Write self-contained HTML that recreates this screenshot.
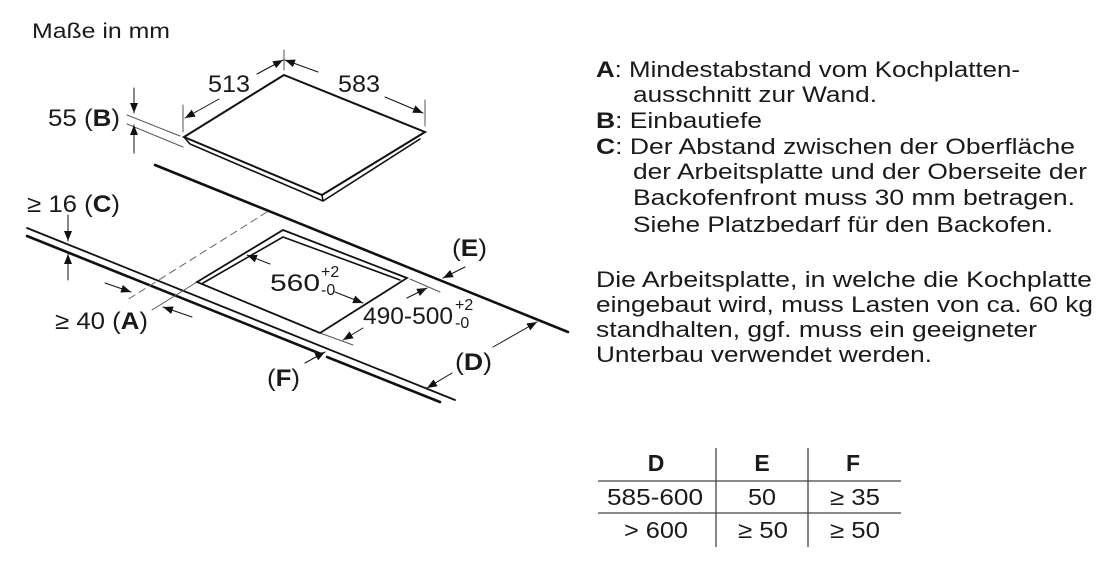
<!DOCTYPE html>
<html><head><meta charset="utf-8"><style>
html,body{margin:0;padding:0;background:#fff;}
svg{display:block;}
text{font-family:"Liberation Sans",Arial,sans-serif;fill:#1a1a1a;}
</style></head><body>
<svg width="1111" height="570" viewBox="0 0 1111 570" xmlns="http://www.w3.org/2000/svg">
<defs>
<marker id="ar" viewBox="0 0 10 10" refX="10" refY="5" markerWidth="10" markerHeight="10" markerUnits="userSpaceOnUse" orient="auto"><path d="M0,1 L10,5 L0,9 z" fill="#111"/></marker>
</defs>
<text x="32" y="38" font-size="21" textLength="138" lengthAdjust="spacingAndGlyphs">Maße in mm</text>

<g stroke="#111" fill="none" stroke-linecap="round">
<polygon points="284,75 425,132 322,195 184,137" fill="#fff" stroke-width="2"/>
<polyline points="184,137 190,144 323,201 420,139" stroke-width="1.6"/>
<line x1="322" y1="195" x2="323" y2="201" stroke-width="1.5"/>
<g stroke-width="1" stroke="#555">
<line x1="284" y1="50" x2="284" y2="70"/>
<line x1="183" y1="105" x2="183" y2="132"/>
<line x1="425" y1="100" x2="425" y2="126"/>
<line x1="127" y1="115" x2="180" y2="136"/>
<line x1="127" y1="124" x2="183" y2="147"/>
</g>
<g stroke-width="1" marker-end="url(#ar)">
<line x1="219" y1="99" x2="185" y2="118"/>
<line x1="257" y1="74" x2="283" y2="60"/>
<line x1="318" y1="72" x2="285" y2="60"/>
<line x1="385" y1="97" x2="423" y2="113"/>
<line x1="134" y1="88" x2="134" y2="113"/>
<line x1="134" y1="153" x2="134" y2="125"/>
<line x1="68" y1="215" x2="68" y2="241"/>
<line x1="68" y1="280" x2="68" y2="254"/>
<line x1="105" y1="283" x2="131" y2="292"/>
<line x1="192" y1="317" x2="163" y2="307"/>
<line x1="270" y1="264" x2="247" y2="255"/>
<line x1="335" y1="292" x2="363" y2="303"/>
<line x1="407" y1="298" x2="427" y2="288"/>
<line x1="363" y1="328" x2="343" y2="340"/>
<line x1="465" y1="267" x2="443" y2="278"/>
<line x1="493" y1="347" x2="537" y2="322"/>
<line x1="452" y1="373" x2="427" y2="388"/>
<line x1="305" y1="363" x2="325" y2="352"/>
</g>
<line x1="155" y1="165" x2="568" y2="332" stroke-width="2.6"/>
<line x1="27" y1="228" x2="455" y2="400" stroke-width="1.8"/>
<line x1="27" y1="236" x2="321" y2="354" stroke-width="2.6"/>
<line x1="327" y1="357" x2="440" y2="402" stroke-width="2.6"/>
<line x1="267" y1="212" x2="127" y2="300" stroke-width="1" stroke="#666" stroke-dasharray="7,5"/>
<g stroke-width="1" stroke="#555">
<line x1="197" y1="282" x2="152" y2="310"/>
<line x1="410" y1="279" x2="440" y2="292"/>
<line x1="320" y1="333" x2="353" y2="345"/>
</g>
<polygon points="197,282 283,230 407,278 320,333" stroke-width="1.8"/>
<polyline points="203,283 283,237 400,280" stroke-width="1.6"/>
</g>

<g font-size="24">
<text x="208" y="92" textLength="42" lengthAdjust="spacingAndGlyphs">513</text>
<text x="338" y="92" textLength="42" lengthAdjust="spacingAndGlyphs">583</text>
<text x="48" y="126" textLength="72" lengthAdjust="spacingAndGlyphs">55 (<tspan font-weight="bold">B</tspan>)</text>
<text x="27" y="212" textLength="93" lengthAdjust="spacingAndGlyphs">≥ 16 (<tspan font-weight="bold">C</tspan>)</text>
<text x="55" y="329" textLength="93" lengthAdjust="spacingAndGlyphs">≥ 40 (<tspan font-weight="bold">A</tspan>)</text>
<text x="270" y="291" textLength="50" lengthAdjust="spacingAndGlyphs">560</text>
<text x="321" y="277" font-size="16">+2</text>
<text x="321" y="295" font-size="16">-0</text>
<text x="363" y="324" textLength="90" lengthAdjust="spacingAndGlyphs">490-500</text>
<text x="455" y="310" font-size="16">+2</text>
<text x="455" y="328" font-size="16">-0</text>
<text x="452" y="256" textLength="35" lengthAdjust="spacingAndGlyphs">(<tspan font-weight="bold">E</tspan>)</text>
<text x="455" y="370" textLength="37" lengthAdjust="spacingAndGlyphs">(<tspan font-weight="bold">D</tspan>)</text>
<text x="267" y="386" textLength="33" lengthAdjust="spacingAndGlyphs">(<tspan font-weight="bold">F</tspan>)</text>
</g>

<g font-size="22">
<text x="596" y="77" textLength="424" lengthAdjust="spacingAndGlyphs"><tspan font-weight="bold">A</tspan>: Mindestabstand vom Kochplatten-</text>
<text x="633" y="102" textLength="244" lengthAdjust="spacingAndGlyphs">ausschnitt zur Wand.</text>
<text x="596" y="128" textLength="166" lengthAdjust="spacingAndGlyphs"><tspan font-weight="bold">B</tspan>: Einbautiefe</text>
<text x="596" y="154" textLength="479" lengthAdjust="spacingAndGlyphs"><tspan font-weight="bold">C</tspan>: Der Abstand zwischen der Oberfläche</text>
<text x="633" y="179" textLength="454" lengthAdjust="spacingAndGlyphs">der Arbeitsplatte und der Oberseite der</text>
<text x="633" y="205" textLength="442" lengthAdjust="spacingAndGlyphs">Backofenfront muss 30 mm betragen.</text>
<text x="633" y="232" textLength="420" lengthAdjust="spacingAndGlyphs">Siehe Platzbedarf für den Backofen.</text>
<text x="596" y="287" textLength="496" lengthAdjust="spacingAndGlyphs">Die Arbeitsplatte, in welche die Kochplatte</text>
<text x="596" y="312" textLength="497" lengthAdjust="spacingAndGlyphs">eingebaut wird, muss Lasten von ca. 60 kg</text>
<text x="596" y="337" textLength="441" lengthAdjust="spacingAndGlyphs">standhalten, ggf. muss ein geeigneter</text>
<text x="596" y="362" textLength="336" lengthAdjust="spacingAndGlyphs">Unterbau verwendet werden.</text>
</g>

<g stroke="#444" stroke-width="1.3">
<line x1="716" y1="448" x2="716" y2="547"/>
<line x1="808" y1="448" x2="808" y2="547"/>
<line x1="598" y1="481" x2="901" y2="481"/>
<line x1="598" y1="513" x2="901" y2="513"/>
</g>
<g font-size="23" text-anchor="middle">
<text x="656" y="471" font-weight="bold">D</text>
<text x="762" y="471" font-weight="bold">E</text>
<text x="853" y="471" font-weight="bold">F</text>
<text x="655" y="505" textLength="96" lengthAdjust="spacingAndGlyphs">585-600</text>
<text x="762" y="505" textLength="28" lengthAdjust="spacingAndGlyphs">50</text>
<text x="855" y="505" textLength="50" lengthAdjust="spacingAndGlyphs">≥ 35</text>
<text x="656" y="538" textLength="64" lengthAdjust="spacingAndGlyphs">&gt; 600</text>
<text x="763" y="538" textLength="50" lengthAdjust="spacingAndGlyphs">≥ 50</text>
<text x="855" y="538" textLength="50" lengthAdjust="spacingAndGlyphs">≥ 50</text>
</g>
</svg>
</body></html>
